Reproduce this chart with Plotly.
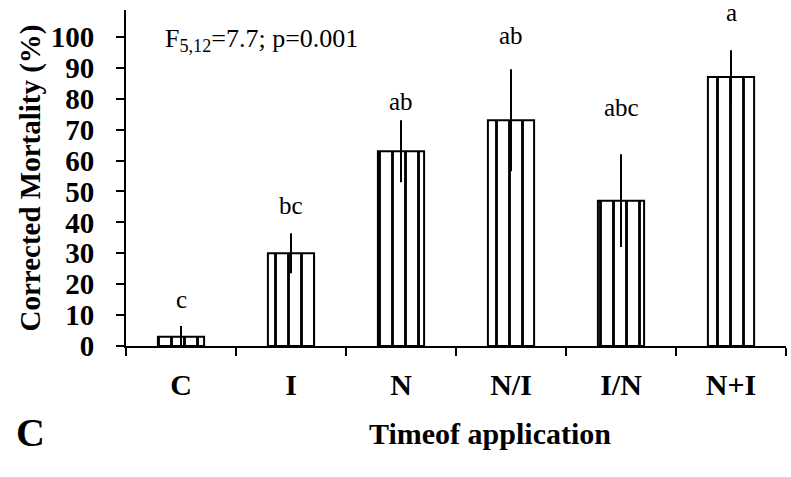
import plotly.graph_objects as go

categories = ["C", "I", "N", "N/I", "I/N", "N+I"]
mortality = [3, 30, 63, 73, 47, 87]
errors = [3.5, 6.5, 10, 16.5, 15, 8.7]
letters = ["c", "bc", "ab", "ab", "abc", "a"]
letter_y = [15, 45.6, 79, 100.3, 77, 107.8]
y_ticks = [0, 10, 20, 30, 40, 50, 60, 70, 80, 90, 100]

FONT = "Liberation Serif, Times New Roman, serif"

fig = go.Figure()
fig.add_trace(go.Bar(
    x=categories, y=mortality, width=0.42,
    marker=dict(color="white", line=dict(color="black", width=2),
                pattern=dict(shape="|", fgcolor="black", fgopacity=1, bgcolor="white",
                             size=13, solidity=0.22, fillmode="overlay")),
    error_y=dict(type="data", array=errors, visible=True, color="black",
                 thickness=2, width=0),
    showlegend=False,
))

for c, t, yy in zip(categories, letters, letter_y):
    fig.add_annotation(x=c, y=yy, text=t, showarrow=False,
                       font=dict(family=FONT, size=25, color="black"))

fig.add_annotation(xref="paper", x=(163 - 126) / 660, xanchor="left", y=99, yanchor="middle",
                   text="F<sub>5,12</sub>=7.7; p=0.001",
                   showarrow=False, font=dict(family=FONT, size=26, color="black"))
fig.add_annotation(xref="paper", yref="paper", x=(30 - 126) / 660, xanchor="center",
                   y=-(432 - 346) / 336, yanchor="middle",
                   text="<b>C</b>", showarrow=False,
                   font=dict(family=FONT, size=40, color="black"))
fig.add_annotation(xref="paper", yref="paper", x=(490 - 126) / 660, xanchor="center",
                   y=-(433 - 346) / 336, yanchor="middle",
                   text="<b>Timeof application</b>", showarrow=False,
                   font=dict(family=FONT, size=30, color="black"))

fig.update_layout(
    width=791, height=477,
    margin=dict(l=126, r=5, t=10, b=131),
    plot_bgcolor="white", paper_bgcolor="white",
    font=dict(family=FONT, color="black"),
    bargap=0.58,
)
fig.update_xaxes(
    type="category", showline=True, linecolor="black", linewidth=2,
    ticks="outside", ticklen=8, tickwidth=2, tickcolor="black",
    tickson="boundaries", showgrid=False,
    tickfont=dict(family=FONT, size=30, color="black"),
    tickprefix="<b>", ticksuffix="</b>", ticklabelstandoff=11,
)
fig.update_yaxes(
    range=[0, 108.7], tickvals=y_ticks, ticktext=[f"<b>{v}</b>" for v in y_ticks],
    showline=True, linecolor="black", linewidth=2,
    ticks="outside", ticklen=8, tickwidth=2, tickcolor="black",
    showgrid=False, zeroline=False,
    tickfont=dict(family=FONT, size=29, color="black"),
    title=dict(text="<b>Corrected Mortality (%)</b>", font=dict(family=FONT, size=29, color="black"), standoff=2),
    ticklabelstandoff=16,
)

fig.write_html("out.html")
